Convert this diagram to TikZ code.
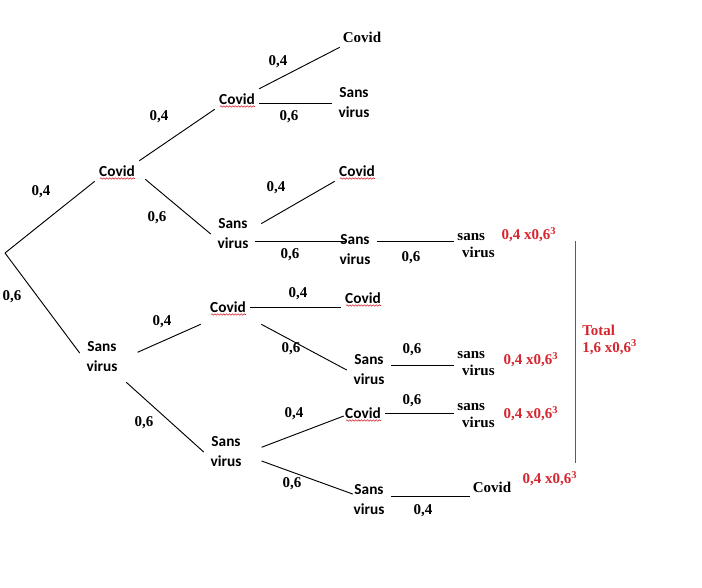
\documentclass[tikz,border=0pt]{standalone}
\usepackage{fontspec}
\newfontfamily\calfont{Carlito}
\newfontfamily\tnrfont{Liberation Serif}
\usetikzlibrary{decorations.pathmorphing}
\definecolor{wred}{RGB}{214,38,48}
\begin{document}
\begin{tikzpicture}[x=0.75pt,y=-0.75pt,
  sv/.style={font=\calfont\bfseries\fontsize{11.5}{15}\selectfont, align=center, inner sep=0pt, minimum width=33pt, minimum height=30pt},
  cv/.style={font=\calfont\bfseries\fontsize{11.5}{15}\selectfont, inner sep=0pt, minimum width=33pt, minimum height=15pt},
  tc/.style={font=\tnrfont\bfseries\fontsize{11.25}{12.75}\selectfont, inner sep=0pt, minimum width=33pt, minimum height=15pt},
  tsv/.style={tc, align=left, minimum height=30pt},
  prob/.style={font=\tnrfont\bfseries\fontsize{11.25}{13}\selectfont, inner sep=0pt},
  res/.style={font=\tnrfont\bfseries\fontsize{11.25}{12.75}\selectfont, text=wred, inner sep=0pt},
  edge/.style={line width=0.7pt},
  squig/.style={wred, line width=0.4pt, decorate, decoration={snake, amplitude=0.55pt, segment length=2.2pt}}
]
\useasboundingbox[fill=white] (0,0) rectangle (702,587);

% tree nodes
\coordinate (root) at (5,253);
\node[cv] (c1) at (117,171) {Covid};
\node[sv] (s1) at (102,357) {Sans\\virus};
\node[cv] (c2) at (237,99) {Covid};
\node[sv] (s2) at (233,234) {Sans\\virus};
\node[cv] (cl2) at (228,307) {Covid};
\node[sv] (s4) at (226,452) {Sans\\virus};
\node[tc] (ct) at (362,37) {Covid};
\node[sv] (svt) at (354,103) {Sans\\virus};
\node[cv] (c3) at (357,171) {Covid};
\node[sv] (s3) at (355,250) {Sans\\virus};
\node[cv] (c4) at (363,298) {Covid};
\node[sv] (s5) at (369,370) {Sans\\virus};
\node[cv] (c5) at (363,413) {Covid};
\node[sv] (s6) at (369,500) {Sans\\virus};
\node[tsv] (sv3) at (476,246) {sans\\\hspace{3.5pt}virus};
\node[tsv] (sv5) at (476,364) {sans\\\hspace{3.5pt}virus};
\node[tsv] (sv6) at (476,416) {sans\\\hspace{3.5pt}virus};
\node[tc] (cf) at (492,487) {Covid};

% spell-check squiggles
\foreach \n in {c1,c2,cl2,c3,c4,c5}{
  \draw[squig] ([shift={(-17,7.5)}]\n.center) -- ([shift={(18,7.5)}]\n.center);
}

% connectors
\draw[edge] (root) -- (c1.south west);
\draw[edge] (root) -- (s1.170);
\draw[edge] (c1.north east) -- (c2.south west);
\draw[edge] (c2.north east) -- (ct.south west);
\draw[edge] (c2.east |- svt.west) -- (svt.west);
\draw[edge] ([shift={(6,-2)}]c1.south east) -- (s2.west);
\draw[edge] ([xshift=4.5pt]s2.25) -- (c3.south west);
\draw[edge, shorten >=-10pt] (s2.-18) -- (s2.-18 -| s3.west);
\draw[edge] (s3.22) -- (s3.22 -| sv3.west);
\draw[edge] ([xshift=10pt]s1.12) -- ([shift={(-5,7)}]cl2.south west);
\draw[edge] ([shift={(2,5)}]s1.south east) -- (s4.west);
\draw[edge] (cl2.east) -- (cl2.east -| c4.west);
\draw[edge] ([shift={(11,7)}]cl2.south east) -- (s5.west);
\draw[edge] (s5.12) -- (s5.12 -| sv5.west);
\draw[edge] ([xshift=10pt]s4.12) -- ([shift={(3,3)}]c5.west);
\draw[edge] ([xshift=10pt]s4.-22) -- ([xshift=4.5pt]s6.165);
\draw[edge] (c5.east) -- (c5.east -| sv6.west);
\draw[edge] (s6.10) -- (s6.10 -| cf.west);

% probabilities
\node[prob] (p1) at (41,192) {0,4};
\node[prob] (p2) at (12,297) {0,6};
\node[prob] (p3) at (159,117) {0,4};
\node[prob] (p4) at (157,218) {0,6};
\node[prob] (p5) at (278,62) {0,4};
\node[prob] (p6) at (289,117) {0,6};
\node[prob] (p7) at (276,188) {0,4};
\node[prob] (p8) at (290,255) {0,6};
\node[prob] (p9) at (411,258) {0,6};
\node[prob] (p10) at (162,322) {0,4};
\node[prob] (p11) at (144,423) {0,6};
\node[prob] (p12) at (298,294) {0,4};
\node[prob] (p13) at (291,349) {0,6};
\node[prob] (p14) at (412,350) {0,6};
\node[prob] (p15) at (294,414) {0,4};
\node[prob] (p16) at (292,484) {0,6};
\node[prob] (p17) at (412,401) {0,6};
\node[prob] (p18) at (423,511) {0,4};

% results
\node[res] (r1) at (529,235) {0,4 x0,6\textsuperscript{3}};
\node[res] (r2) at (531,360) {0,4 x0,6\textsuperscript{3}};
\node[res] (r3) at (531,414) {0,4 x0,6\textsuperscript{3}};
\node[res] (r4) at (550,479) {0,4 x0,6\textsuperscript{3}};
\coordinate (br1) at (575,241);
\coordinate (br2) at (575,463);
\draw[wred, line width=0.65pt] (br1) -- (br2);
\node[res, align=left, anchor=west] (tot) at (582,339.5) {Total\\1,6 x0,6\textsuperscript{3}};
\end{tikzpicture}
\end{document}
